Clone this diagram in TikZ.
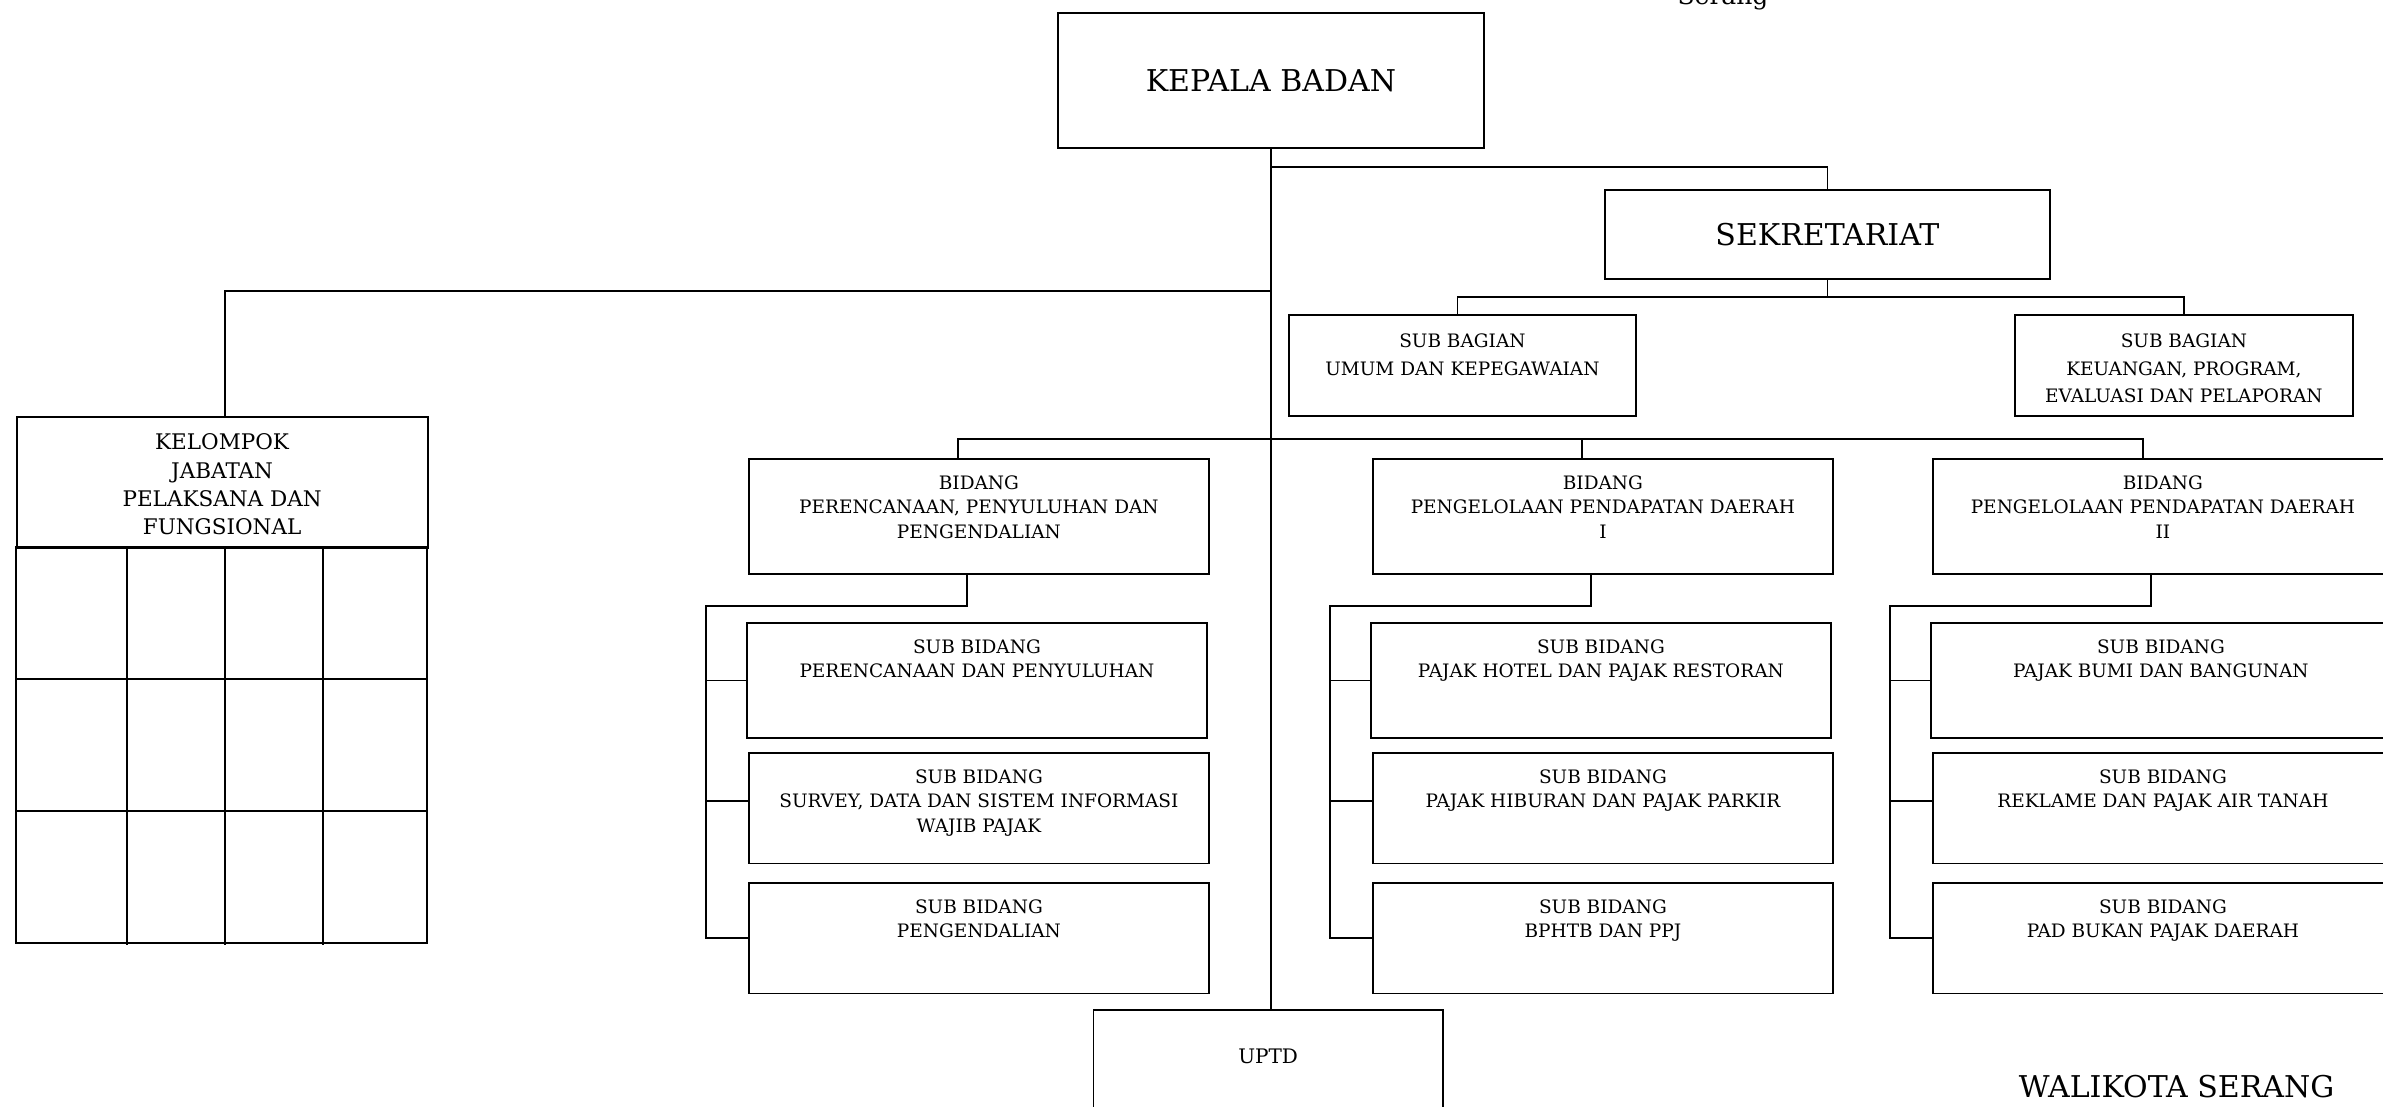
\documentclass[tikz,border=0pt]{standalone}
\usepackage{fontspec}
\setmainfont{DejaVu Serif}
\begin{document}
\begin{tikzpicture}
  [x=1pt,y=-1pt,line width=1.8pt,every node/.style={inner sep=0pt,anchor=north west}]
  \tikzstyle{unit} = [draw,rectangle,minimum width=460pt,minimum height=110.5pt]
  \tikzstyle{txt} = [anchor=north,align=center,yshift=-16.6pt,font=\fontsize{18.5}{24.7}\selectfont]
  \tikzstyle{big} = [font=\fontsize{30}{36}\selectfont]
  \useasboundingbox (0,0) rectangle (2383,1107);
  \clip (0,0) rectangle (2383,1107);
  \node[font=\fontsize{25}{30}\selectfont,anchor=base] (srg) at (1723,5) {Serang};
  \node[draw,big,minimum width=426pt,minimum height=135pt] (kb) at (1057,12) {KEPALA BADAN};
  \node[draw,big,minimum width=445pt,minimum height=89pt] (sek) at (1604,189) {SEKRETARIAT};
  \node[draw,minimum width=347pt,minimum height=101pt,
    label={[txt,yshift=-2.1pt,font=\fontsize{18.5}{27.7}\selectfont]north:{SUB BAGIAN\\UMUM DAN KEPEGAWAIAN}}] (sbg1) at (1288,314) {};
  \node[draw,minimum width=338pt,minimum height=101pt,
    label={[txt,yshift=-2.1pt,font=\fontsize{18.5}{27.7}\selectfont]north:{SUB BAGIAN\\KEUANGAN, PROGRAM,\\EVALUASI DAN PELAPORAN}}] (sbg2) at (2014,314) {};
  \node[draw,minimum width=411pt,minimum height=131.3pt,
    label={[txt,yshift=-0.7pt,font=\fontsize{21.5}{28.3}\selectfont]north:{KELOMPOK\\JABATAN\\PELAKSANA DAN\\FUNGSIONAL}}] (kjf) at (15.7,415.7) {};
  % bidang
  \node[unit,minimum height=115pt,label={[txt]north:{BIDANG\\PERENCANAAN, PENYULUHAN DAN\\PENGENDALIAN}}] (bid1) at (748,458) {};
  \node[unit,minimum height=115pt,label={[txt]north:{BIDANG\\PENGELOLAAN PENDAPATAN DAERAH\\I}}] (bid2) at (1372,458) {};
  \node[unit,minimum height=115pt,label={[txt]north:{BIDANG\\PENGELOLAAN PENDAPATAN DAERAH\\II}}] (bid3) at (1932,458) {};
  % sub bidang
  \node[unit,minimum height=115pt,label={[txt]north:{SUB BIDANG\\PERENCANAAN DAN PENYULUHAN}}] (sa1) at (746,622) {};
  \node[unit,label={[txt]north:{SUB BIDANG\\SURVEY, DATA DAN SISTEM INFORMASI\\WAJIB PAJAK}}] (sb1) at (748,752) {};
  \node[unit,label={[txt]north:{SUB BIDANG\\PENGENDALIAN}}] (sc1) at (748,882) {};
  \node[unit,minimum height=115pt,label={[txt]north:{SUB BIDANG\\PAJAK HOTEL DAN PAJAK RESTORAN}}] (sa2) at (1370,622) {};
  \node[unit,label={[txt]north:{SUB BIDANG\\PAJAK HIBURAN DAN PAJAK PARKIR}}] (sb2) at (1372,752) {};
  \node[unit,label={[txt]north:{SUB BIDANG\\BPHTB DAN PPJ}}] (sc2) at (1372,882) {};
  \node[unit,minimum height=115pt,label={[txt]north:{SUB BIDANG\\PAJAK BUMI DAN BANGUNAN}}] (sa3) at (1930,622) {};
  \node[unit,label={[txt]north:{SUB BIDANG\\REKLAME DAN PAJAK AIR TANAH}}] (sb3) at (1932,752) {};
  \node[unit,label={[txt]north:{SUB BIDANG\\PAD BUKAN PAJAK DAERAH}}] (sc3) at (1932,882) {};
  \node[draw,minimum width=349.5pt,minimum height=130pt,
    label={[txt,yshift=-22.4pt,font=\fontsize{20}{24}\selectfont]north:UPTD}] (uptd) at (1092.5,1009) {};
  \node[big,anchor=base] (wk) at (2176.5,1097) {WALIKOTA SERANG};
  % kelompok jabatan grid
  \draw (15.7,547) rectangle (426.7,943);
  \foreach \y in {679,811} \draw (15.7,\y) -- (426.7,\y);
  \foreach \x in {127,225,323} \draw (\x,547) -- (\x,945);
  % lines
  \draw (kb.south) -- (kb.south |- uptd.north);
  \draw (kb.south) ++(0,18) -| (sek.north);
  \draw (kb.south) ++(0,142) -| ([xshift=3pt]kjf.north);
  \draw (sek.south) -- ++(0,17) coordinate (sj);
  \draw ([xshift=-5pt]sbg1.north) |- (sj) -| (sbg2.north);
  \draw ([xshift=-21pt]bid1.north) -- ++(0,-19) -| ([xshift=-20pt]bid3.north);
  \draw ([xshift=-21pt]bid2.north) -- ++(0,-19);
\foreach \c in {1,2,3} {
   \draw ([xshift=-12pt]bid\c.south) -- ++(0,31) -| ([xshift=-42pt]sc\c.west) -- (sc\c.west);
   \draw ([xshift=-40pt]sa\c.west) -- (sa\c.west);
   \draw ([xshift=-42pt,yshift=7pt]sb\c.west) -- ([yshift=7pt]sb\c.west);
}
\end{tikzpicture}
\end{document}
